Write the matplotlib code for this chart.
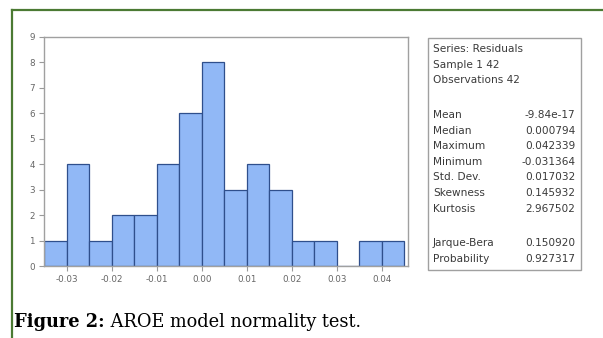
import matplotlib
matplotlib.use("Agg")
import matplotlib.pyplot as plt
from matplotlib.lines import Line2D
from matplotlib.patches import Rectangle

# ---- data ----
bin_edges = [-0.035, -0.030, -0.025, -0.020, -0.015, -0.010, -0.005, 0.000,
             0.005, 0.010, 0.015, 0.020, 0.025, 0.030, 0.035, 0.040, 0.045]
counts = [1, 4, 1, 2, 2, 4, 6, 8, 3, 4, 3, 1, 1, 0, 1, 1]
x_ticks = [-0.03, -0.02, -0.01, 0.00, 0.01, 0.02, 0.03, 0.04]
x_tick_labels = ["-0.03", "-0.02", "-0.01", "0.00", "0.01", "0.02", "0.03", "0.04"]
y_ticks = [0, 1, 2, 3, 4, 5, 6, 7, 8, 9]

stats_header = ["Series: Residuals", "Sample 1 42", "Observations 42"]
stats_names = ["Mean", "Median", "Maximum", "Minimum", "Std. Dev.", "Skewness", "Kurtosis"]
stats_values = ["-9.84e-17", "0.000794", "0.042339", "-0.031364", "0.017032", "0.145932", "2.967502"]
test_names = ["Jarque-Bera", "Probability"]
test_values = ["0.150920", "0.927317"]

caption_bold = "Figure 2:"
caption_rest = " AROE model normality test."

W, H = 603, 338
fig = plt.figure(figsize=(W / 100, H / 100), dpi=100)
fig.patch.set_facecolor("white")

def fx(px):
    return px / W

def fy(py):
    return 1 - py / H

# histogram axes
ax = fig.add_axes([fx(44), fy(266), fx(408) - fx(44), fy(37) - fy(266)])
widths = [bin_edges[i + 1] - bin_edges[i] for i in range(len(counts))]
ax.bar(bin_edges[:-1], counts, width=widths, align="edge",
       color="#91b8f6", edgecolor="#2f4f8c", linewidth=0.9)
ax.set_xlim(-0.035, 0.0458)
ax.set_ylim(0, 9)
ax.set_xticks(x_ticks)
ax.set_xticklabels(x_tick_labels)
ax.set_yticks(y_ticks)
for s in ax.spines.values():
    s.set_color("#a0a0a0")
    s.set_linewidth(1.0)
ax.tick_params(axis="both", labelsize=6.3, colors="#9a9a9a", labelcolor="#666666",
               length=3.5, width=0.8, pad=3)
for lab in ax.get_xticklabels() + ax.get_yticklabels():
    lab.set_family("DejaVu Sans")

# stats box
box = Rectangle((fx(428), fy(270)), fx(581) - fx(428), fy(38) - fy(270),
                transform=fig.transFigure, fill=False, edgecolor="#a0a0a0", linewidth=1.0)
fig.patches.append(box)

fs = 7.6
tc = "#3a3a3a"
fam = "DejaVu Sans"
lx, rx = 433, 575
y = 49
for line in stats_header:
    fig.text(fx(lx), fy(y), line, fontsize=fs, color=tc, va="center", ha="left", family=fam)
    y += 15.5
y = 115
for n, v in zip(stats_names, stats_values):
    fig.text(fx(lx), fy(y), n, fontsize=fs, color=tc, va="center", ha="left", family=fam)
    fig.text(fx(rx), fy(y), v, fontsize=fs, color=tc, va="center", ha="right", family=fam)
    y += 15.6
y = 243
for n, v in zip(test_names, test_values):
    fig.text(fx(lx), fy(y), n, fontsize=fs, color=tc, va="center", ha="left", family=fam)
    fig.text(fx(rx), fy(y), v, fontsize=fs, color=tc, va="center", ha="right", family=fam)
    y += 15.6

# green frame
green = "#4b7a33"
fig.add_artist(Line2D([fx(12), 1], [fy(10), fy(10)], color=green, linewidth=1.6,
                      transform=fig.transFigure))
fig.add_artist(Line2D([fx(12), fx(12)], [fy(10), 0], color=green, linewidth=1.6,
                      transform=fig.transFigure))

# caption
cfs = 12.8
cfam = "DejaVu Serif"
t1 = fig.text(fx(14), fy(327), caption_bold, fontsize=cfs, fontweight="bold",
              family=cfam, color="black", va="baseline", ha="left")
fig.canvas.draw()
bb = t1.get_window_extent(renderer=fig.canvas.get_renderer())
fig.text(bb.x1 / W, fy(327), caption_rest, fontsize=cfs, family=cfam, color="black",
         va="baseline", ha="left")

fig.savefig("out.png", dpi=100, facecolor="white")
